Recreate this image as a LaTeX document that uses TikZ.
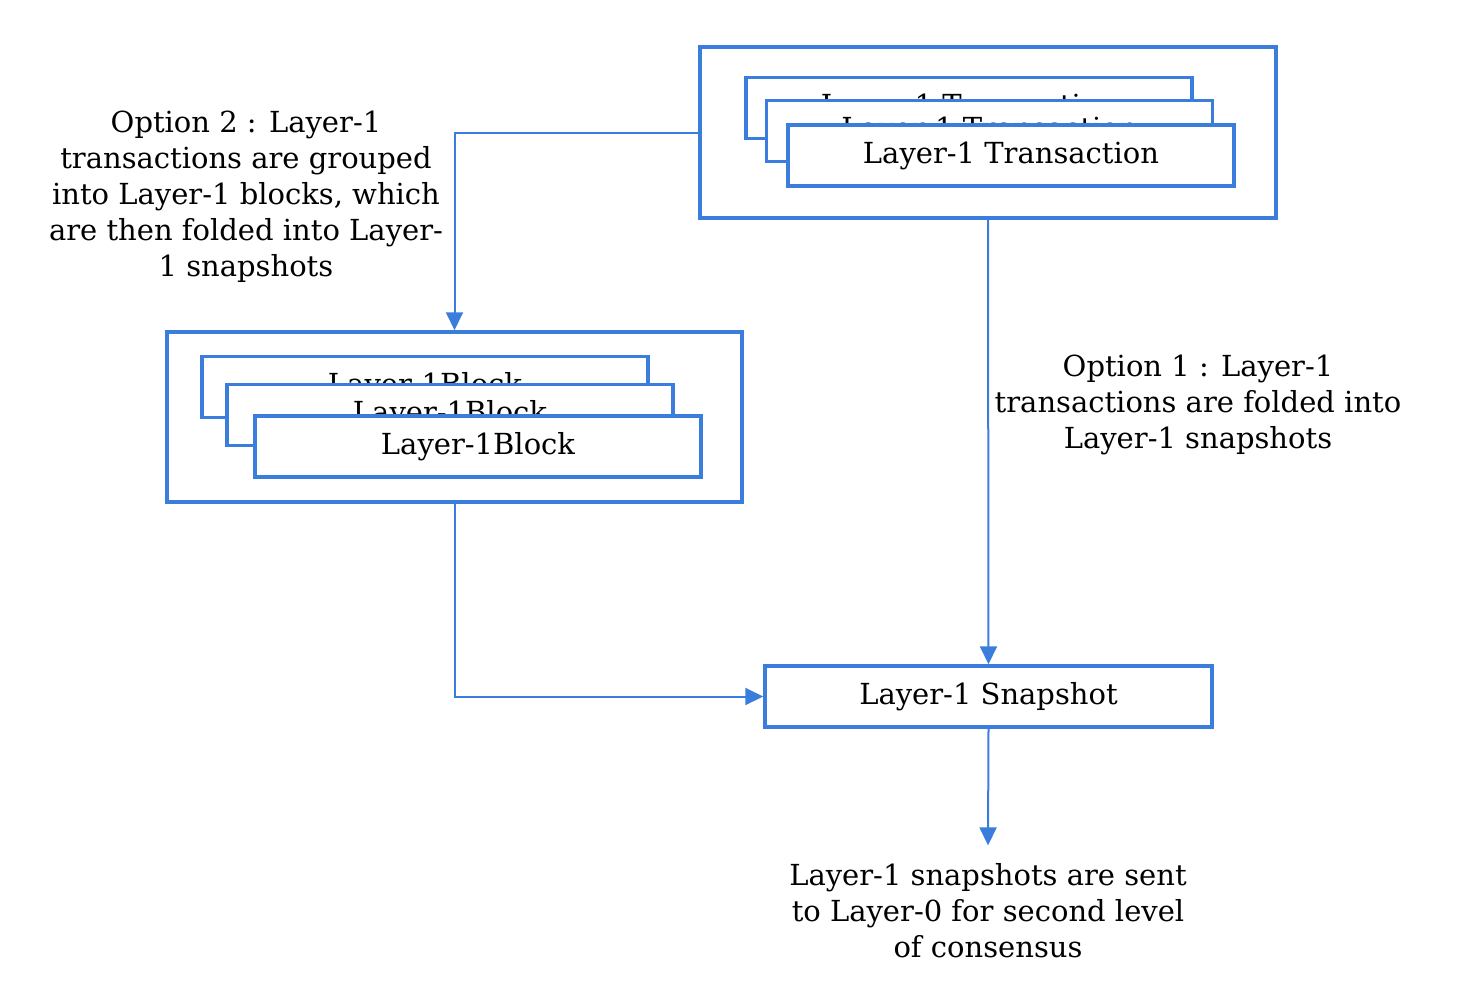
\documentclass[tikz,border=0pt]{standalone}
\usepackage{fontspec}
\setmainfont{DejaVu Serif}
\usetikzlibrary{arrows.meta,positioning}

\definecolor{lineblue}{RGB}{59,125,221}
\newcommand{\tucked}[1]{\raisebox{-2.5pt}{#1}}

\tikzset{
  group/.style={draw=lineblue, line width=1.75pt, inner sep=0pt,
    minimum width=288pt, minimum height=85.5pt},
  card/.style={draw=lineblue, line width=1.75pt, fill=white, inner sep=0pt,
    minimum width=223pt, minimum height=30.5pt,
    font=\fontsize{14.5}{17}\selectfont},
  note/.style={align=center, inner sep=0pt,
    font=\fontsize{14.5}{18}\selectfont},
  flow/.style={draw=lineblue, line width=1pt,
    -{Triangle[length=9pt,width=8.5pt]}}
}

\begin{document}
\begin{tikzpicture}[x=0.5pt,y=-0.5pt]
  \useasboundingbox (0,0) rectangle (1466,996);

  % transactions
  \node (txgroup) [group] at (988,132.5) {};
  \node (tx1) [card] at (969,108) {\tucked{Layer-1 Transaction}};
  \node (tx2) [card] at (989.5,131) {\tucked{Layer-1 Transaction}};
  \node (tx3) [card] at (1011,155.5) {Layer-1 Transaction};

  % blocks
  \node (blockgroup) [group, minimum width=287.5pt, minimum height=85pt] at (454.5,417) {};
  \node (block1) [card] at (425,387) {\tucked{Layer-1Block}};
  \node (block2) [card] at (450,415) {\tucked{Layer-1Block}};
  \node (block3) [card] at (478,446.5) {Layer-1Block};

  % snapshot
  \node (snap) [card, minimum width=223.5pt] at (988.5,696.5) {Layer-1 Snapshot};

  % texts
  \node (opt2) [note] at (246,197) {Option 2 : Layer-1\\transactions are grouped\\into Layer-1 blocks, which\\are then folded into Layer-\\1 snapshots};
  \node (opt1) [note] at (1198,405) {Option 1 : Layer-1\\transactions are folded into\\Layer-1 snapshots};
  \node (sent) [note, inner ysep=9pt] at (988,911) {Layer-1 snapshots are sent\\to Layer-0 for second level\\of consensus};

  \path
  (txgroup.west) edge[flow, to path={-| (\tikztotarget)}] (blockgroup.north)
  (blockgroup.south) edge[flow, to path={|- (\tikztotarget)}] (snap.west)
  (txgroup.south) edge[flow] (snap.north)
  (snap.south) edge[flow] (sent.north);
\end{tikzpicture}
\end{document}
